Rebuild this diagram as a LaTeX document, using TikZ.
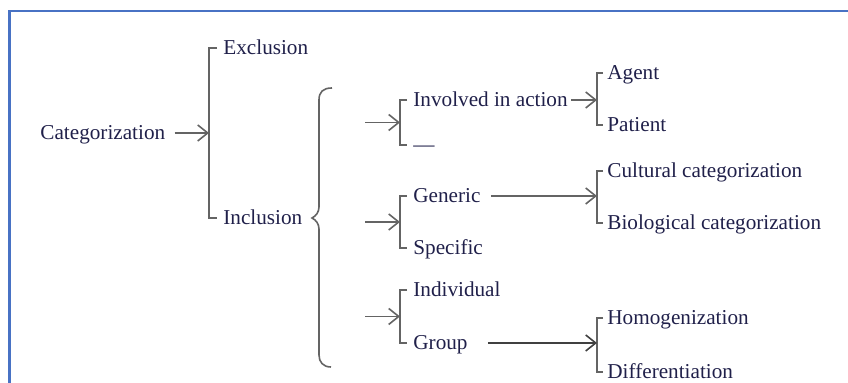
\documentclass[tikz,border=0pt]{standalone}
\usepackage{fontspec}
\setmainfont{Liberation Serif}
\usetikzlibrary{arrows.meta}
\definecolor{framebl}{RGB}{72,114,196}
\definecolor{txtcol}{RGB}{32,32,74}
\definecolor{lncol}{RGB}{100,100,100}
\tikzset{
	lbl/.style={anchor=west, inner sep=0pt, text height=8pt, text depth=1pt,
		font=\fontsize{10.6}{12}\selectfont, text=txtcol},
	brk/.style={lncol, line width=0.8pt},
	arr/.style={lncol, line width=0.8pt, -{Straight Barb[length=5pt,width=8pt]}}
}
\begin{document}
\begin{tikzpicture}[x=0.5pt,y=-0.5pt]
		\useasboundingbox (0,0) rectangle (848,383);
		% Draw frame
		\draw[framebl, line width=1.3pt] (9.3,383) -- (9.3,11.2) -- (848,11.2);

		% Labels
		\node[lbl] (cat) at (40,133) {Categorization};
		\node[lbl] (exc) at (223,48) {Exclusion};
		\node[lbl] (inc) at (223,218) {Inclusion};

		\node[lbl] (inv) at (413,100) {Involved in action};
		\node[lbl] (dsh) at (413,145) {—};
		\node[lbl] (agt) at (607,73) {Agent};
		\node[lbl] (pat) at (607,125) {Patient};

		\node[lbl] (gen) at (413,196) {Generic};
		\node[lbl] (spe) at (413,248) {Specific};
		\node[lbl] (cul) at (607,171) {Cultural categorization};
		\node[lbl] (bio) at (607,223) {Biological categorization};

		\node[lbl] (ind) at (413,290) {Individual};
		\node[lbl] (grp) at (413,343) {Group};
		\node[lbl] (hom) at (607,318) {Homogenization};
		\node[lbl] (dif) at (607,372) {Differentiation};

		% -----------------------------------------------------
		% Brackets
		\draw[brk] ([shift={(-6,0)}]exc.west) -- ++(-8,0) |- coordinate[pos=0.25] (b1) ([shift={(-6,0)}]inc.west);
		\draw[brk] ([shift={(-6,0)}]inv.west) -- ++(-7,0) |- coordinate[pos=0.25] (b2) ([shift={(-6,0)}]dsh.west);
		\draw[brk] ([shift={(-4,0)}]agt.west) -- ++(-6,0) |- coordinate[pos=0.25] (b3) ([shift={(-4,0)}]pat.west);
		\draw[brk] ([shift={(-6,0)}]gen.west) -- ++(-7,0) |- coordinate[pos=0.25] (b4) ([shift={(-6,0)}]spe.west);
		\draw[brk] ([shift={(-4,0)}]cul.west) -- ++(-6,0) |- coordinate[pos=0.25] (b5) ([shift={(-4,0)}]bio.west);
		\draw[brk] ([shift={(-6,0)}]ind.west) -- ++(-7,0) |- coordinate[pos=0.25] (b6) ([shift={(-6,0)}]grp.west);
		\draw[brk] ([shift={(-4,0)}]hom.west) -- ++(-6,0) |- coordinate[pos=0.25] (b7) ([shift={(-4,0)}]dif.west);

		% Brace
		\draw[brk] (332,88) .. controls (323,88) and (319,92) .. (319,100) -- (319,207)
			.. controls (319,212) and (316,216) .. (312,218)
			.. controls (316,220) and (319,224) .. (319,229) -- (319,355)
			.. controls (319,362) and (323,367) .. (331,367);

		% -----------------------------------------------------
		% Arrows
		\draw[arr] ([shift={(9,0)}]cat.east) -- (cat.east -| b1);
		\draw[arr] ([shift={(-35,0)}]b2) -- (b2);
		\draw[arr] ([shift={(-35,0)}]b4) -- (b4);
		\draw[arr] ([shift={(-35,0)}]b6) -- (b6);
		\draw[arr] ([shift={(3,0)}]inv.east) -- (inv.east -| b3);
		\draw[arr] ([shift={(10,0)}]gen.east) -- (gen.east -| b5);
		\draw[arr, black!75] ([shift={(20,0)}]grp.east) -- (grp.east -| b7);
\end{tikzpicture}
\end{document}
